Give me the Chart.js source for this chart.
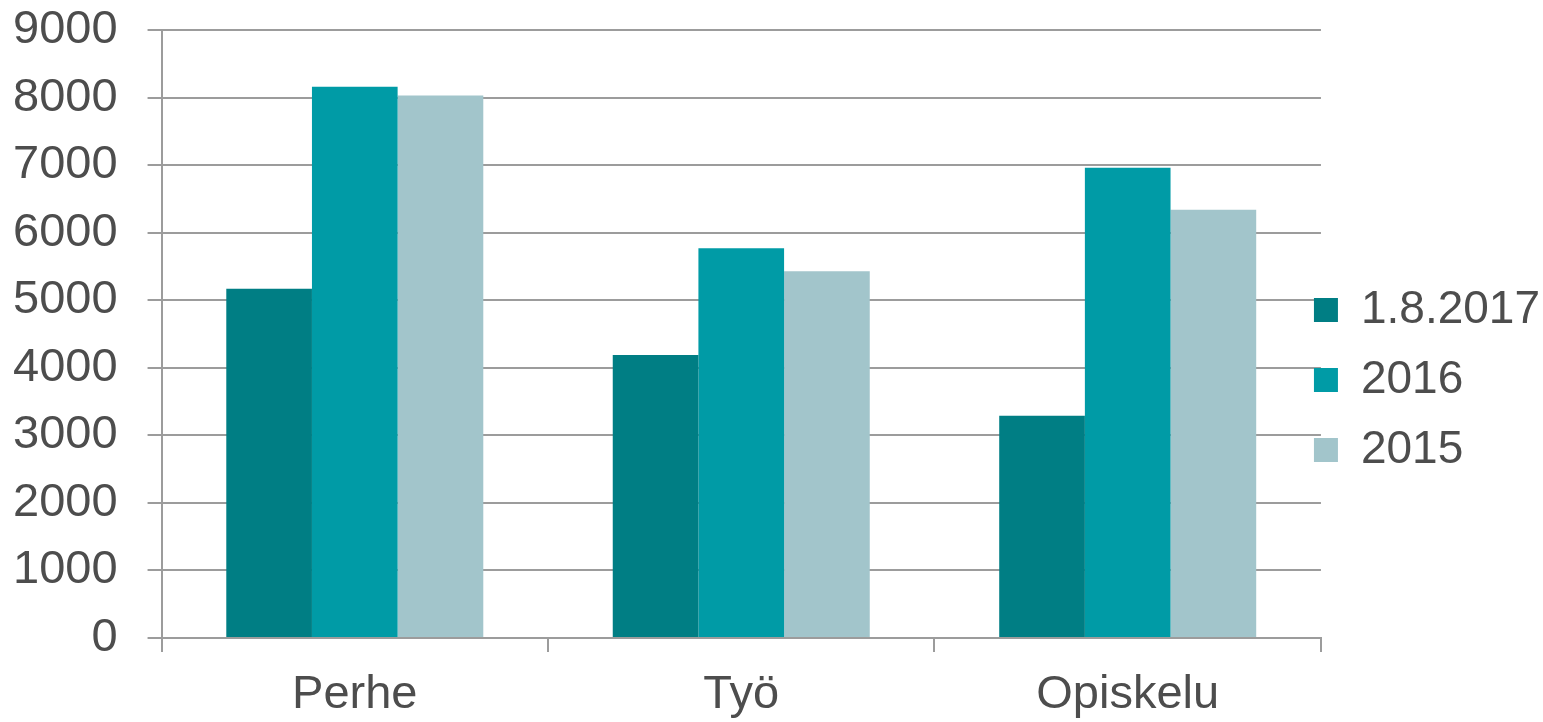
<!DOCTYPE html>
<html>
<head>
<meta charset="utf-8">
<script src="https://cdn.jsdelivr.net/npm/chart.js@4/dist/chart.umd.min.js"></script>
<style>
  html, body { margin: 0; padding: 0; background: #fff; }
  #wrap { width: 1543px; height: 722px; }
</style>
</head>
<body>
<div id="wrap"><canvas id="chart"></canvas></div>
<script>
// categories and series
const categories = ['Perhe', 'Työ', 'Opiskelu'];
const seriesNames = ['1.8.2017', '2016', '2015'];
const values2017 = [5170, 4190, 3290];
const values2016 = [8160, 5770, 6960];
const values2015 = [8030, 5430, 6340];
const yTicks = [0, 1000, 2000, 3000, 4000, 5000, 6000, 7000, 8000, 9000];

const COLORS = ['#007e84', '#009ba6', '#a2c5cb'];
const TEXT = '#4d4d4d';
const LINE = '#9c9c9c';
const FONT = 'Liberation Sans, Arial, sans-serif';

// legend sits tight against the plot like in the original
const legendTweak = {
    id: 'legendTweak',
    afterLayout(chart) {
        const lg = chart.legend;
        lg.left -= 31; lg.right -= 31;
        lg.top += 4; lg.bottom += 4;
    }
};

const ctx = document.getElementById('chart').getContext('2d');
new Chart(ctx, {
    type: 'bar',
    data: {
        labels: categories,
        datasets: [values2017, values2016, values2015].map((data, i) => ({
            label: seriesNames[i], data,
            backgroundColor: COLORS[i],
            borderWidth: 0,
            categoryPercentage: 0.665,
            barPercentage: 1.0
        }))
    },
    options: {
        responsive: true, maintainAspectRatio: false, animation: false,
        layout: { padding: { top: 30, right: -38, left: -17, bottom: 0 } },
        plugins: {
            legend: {
                position: 'right',
                labels: {
                    boxWidth: 24, boxHeight: 24, padding: 24,
                    color: TEXT,
                    font: { family: FONT, size: 46 }
                }
            },
            tooltip: { enabled: false }
        },
        scales: {
            x: {
                grid: { display: true, drawOnChartArea: false, drawTicks: true, tickLength: 14, color: LINE, lineWidth: 2, offset: true },
                border: { display: true, color: LINE, width: 2 },
                ticks: { color: TEXT, font: { family: FONT, size: 47 }, padding: 15 },
                afterFit: s => { s.height = 84; }
            },
            y: {
                min: 0, max: 9000,
                afterBuildTicks: axis => { axis.ticks = yTicks.map(v => ({ value: v })); },
                afterFit: s => { s.paddingTop = 0; s.paddingBottom = 0; },
                grid: { color: LINE, lineWidth: 2, tickLength: 14 },
                border: { display: true, color: LINE, width: 2 },
                ticks: { color: TEXT, font: { family: FONT, size: 47 }, padding: 30, callback: v => String(v) }
            }
        }
    },
    plugins: [legendTweak]
});
</script>
</body>
</html>
